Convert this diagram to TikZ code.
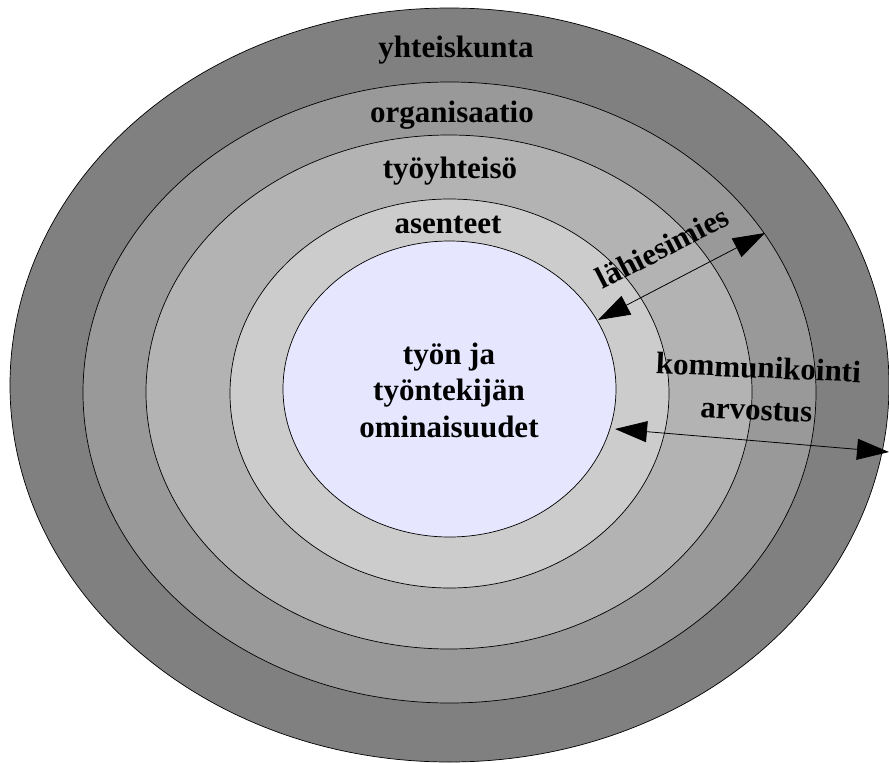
\documentclass[tikz,border=0pt]{standalone}
\usepackage{fontspec}
\setmainfont{Liberation Serif}
\usetikzlibrary{arrows.meta}
\definecolor{ringa}{RGB}{128,128,128}
\definecolor{ringb}{RGB}{153,153,153}
\definecolor{ringc}{RGB}{179,179,179}
\definecolor{ringd}{RGB}{204,204,204}
\definecolor{corefill}{RGB}{230,230,255}
\begin{document}
\begin{tikzpicture}[x=1pt,y=-1pt,
  lbl/.style={font=\fontsize{31}{36}\selectfont\bfseries, inner sep=0pt, anchor=base},
  ring/.style={draw=black, line width=0.7pt},
  twoway/.style={{Triangle[length=32pt,width=21pt]}-{Triangle[length=32pt,width=21pt]}, line width=0.8pt}]
\useasboundingbox (0,0) rectangle (889,763);
%\draw (0,0) rectangle (889,763);

\filldraw[ring, fill=ringa] (449.5,385) ellipse [x radius=439.5, y radius=377];
\filldraw[ring, fill=ringb] (449.5,392.5) ellipse [x radius=366.5, y radius=310.5];
\filldraw[ring, fill=ringc] (449,392) ellipse [x radius=303, y radius=257];
\filldraw[ring, fill=ringd] (449.5,393.5) ellipse [x radius=219.5, y radius=194.5];
\filldraw[ring, fill=corefill] (449.5,389) ellipse [x radius=166.5, y radius=148];

\draw (456,57) node[lbl] (yht) {yhteiskunta};
\draw (452,122) node[lbl] (org) {organisaatio};
\draw (450,178) node[lbl] (tyo) {työyhteisö};
\draw (448,233) node[lbl] (ase) {asenteet};

\draw (449,364) node[lbl] (core1) {työn ja};
\draw (449,400) node[lbl] (core2) {työntekijän};
\draw (449,437) node[lbl] (core3) {ominaisuudet};

\draw (667,257) node[lbl, rotate=27] (lahi) {lähiesimies};
\draw (758,378) node[lbl, rotate=-2.5] (komm) {kommunikointi};
\draw (756,420) node[lbl, rotate=-2.5] (arvo) {arvostus};

\coordinate (lahiin) at (598,320);
\coordinate (lahiout) at (765,233);
\coordinate (kommin) at (615,429);
\coordinate (kommout) at (889,452);

\draw[twoway] (lahiin) -- (lahiout);
\draw[twoway] (kommin) -- (kommout);
\end{tikzpicture}
\end{document}
